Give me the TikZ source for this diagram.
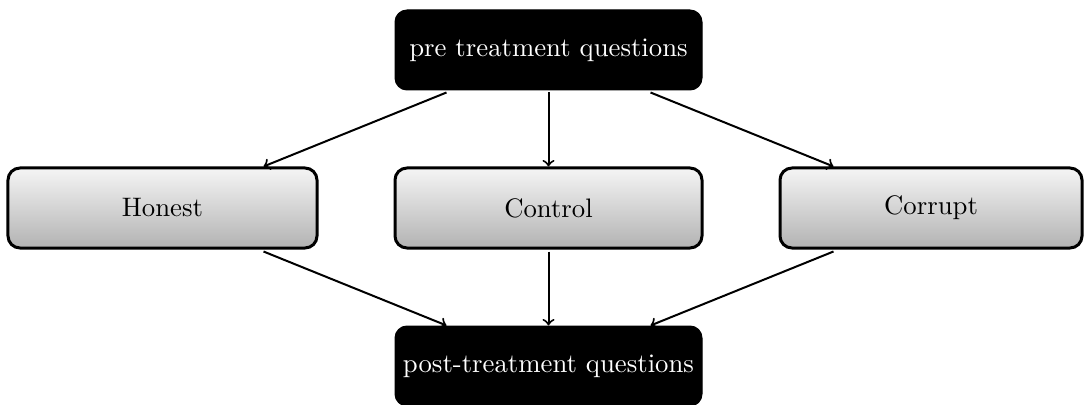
\documentclass[tikz,border=0pt]{standalone}
\usetikzlibrary{calc}
\begin{document}
\begin{tikzpicture}[x=0.4pt,y=-0.4pt,
  every node/.style={font=\fontsize{10.7}{13}\selectfont},
  darkbox/.style={draw=black,fill=black,text=white,rounded corners=4.8pt,minimum width=122.8pt,minimum height=32pt,inner sep=0pt},
  greybox/.style={draw=black,line width=1.2pt,rounded corners=4.8pt,top color=gray!8,bottom color=gray!60,minimum height=32pt,inner sep=0pt},
  arr/.style={->,line width=0.8pt}]
\useasboundingbox (0,0) rectangle (1084,405);
\node[darkbox] (top) at (548.5,50) {pre treatment questions};
\node[greybox,minimum width=123.6pt] (hon) at (162.5,208) {Honest};
\node[greybox,minimum width=122.8pt] (con) at (548.5,208) {Control};
\node[greybox,minimum width=120.8pt] (cor) at (931,208) {Corrupt};
\node[darkbox] (bot) at (548.5,366) {post-treatment questions};
\draw[arr] ($(top.south west)+(52,2)$) -- ($(hon.north east)+(-55,0)$);
\draw[arr] ($(top.south)+(0,2)$) -- (con.north);
\draw[arr] ($(top.south east)+(-52,2)$) -- ($(cor.north west)+(55,0)$);
\draw[arr] ($(hon.south east)+(-55,2)$) -- ($(bot.north west)+(52,0)$);
\draw[arr] ($(con.south)+(0,2)$) -- (bot.north);
\draw[arr] ($(cor.south west)+(55,2)$) -- ($(bot.north east)+(-52,0)$);
\end{tikzpicture}
\end{document}
